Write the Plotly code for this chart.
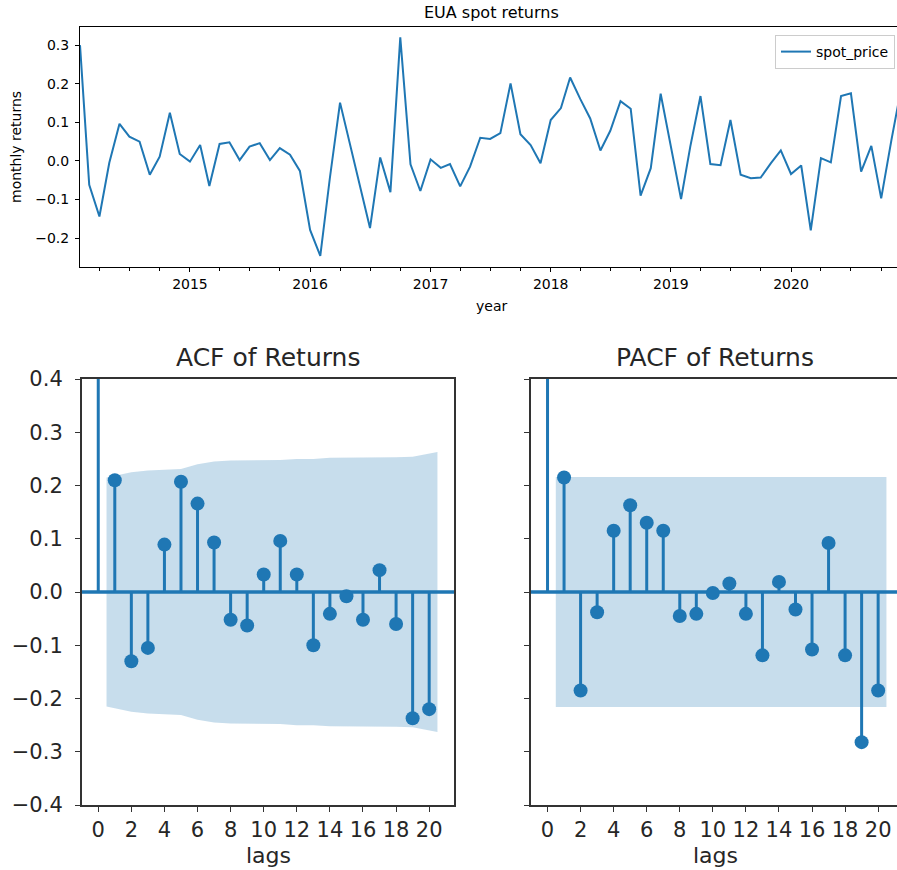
import pandas as pd
import plotly.graph_objects as go

# ---------------- data ----------------
months = pd.date_range("2014-02-01", periods=83, freq="MS")
spot_returns = [
    # 2014 (Feb-Dec)
    0.300, -0.062, -0.144, -0.005, 0.096, 0.063, 0.050, -0.036, 0.011, 0.125, 0.018,
    # 2015
    -0.002, 0.041, -0.065, 0.044, 0.048, 0.002, 0.037, 0.046, 0.002, 0.033, 0.016, -0.026,
    # 2016
    -0.179, -0.246, -0.045, 0.151, 0.042, -0.066, -0.174, 0.009, -0.081, 0.320, -0.009, -0.078,
    # 2017
    0.004, -0.018, -0.008, -0.066, -0.015, 0.060, 0.057, 0.072, 0.201, 0.069, 0.041, -0.006,
    # 2018
    0.106, 0.137, 0.216, 0.160, 0.110, 0.027, 0.078, 0.155, 0.135, -0.090, -0.019, 0.174,
    # 2019
    0.037, -0.099, 0.037, 0.168, -0.008, -0.011, 0.106, -0.036, -0.045, -0.043, -0.006, 0.027,
    # 2020
    -0.034, -0.012, -0.180, 0.007, -0.004, 0.168, 0.175, -0.028, 0.039, -0.097, 0.054, 0.190,
]

lags = list(range(21))
acf_values = [1.0, 0.210, -0.130, -0.105, 0.089, 0.207, 0.166, 0.093, -0.052, -0.063,
              0.033, 0.096, 0.033, -0.100, -0.041, -0.008, -0.052, 0.041, -0.060, -0.237, -0.220]
pacf_values = [1.0, 0.215, -0.185, -0.038, 0.115, 0.163, 0.130, 0.115, -0.045, -0.041,
               -0.002, 0.016, -0.041, -0.119, 0.019, -0.033, -0.108, 0.092, -0.119, -0.282, -0.185]

band_lags = [0.5, 2, 3, 4, 5, 6, 7, 8, 9, 10, 11, 12, 13, 14, 15, 16, 17, 18, 19, 20.5]
acf_band = [0.215, 0.225, 0.228, 0.230, 0.231, 0.240, 0.245, 0.247, 0.247, 0.248,
            0.248, 0.250, 0.250, 0.252, 0.252, 0.252, 0.253, 0.253, 0.254, 0.263]
pacf_band = [0.216] * 20

yticks_bottom = [-0.4, -0.3, -0.2, -0.1, 0.0, 0.1, 0.2, 0.3, 0.4]

# ---------------- styling ----------------
W, H = 897, 870
BLUE = "#1f77b4"
BAND = "rgba(31,119,180,0.25)"
FONT = "DejaVu Sans"
lag_range_acf = [-1, 21.5]
lag_range_pacf = [-1, 21.14]


def px_x(p):
    return p / W


def px_y(p):
    return 1 - p / H


fig = go.Figure()

# top line chart
fig.add_trace(go.Scatter(x=months, y=spot_returns, mode="lines", name="spot_price",
                         line=dict(color=BLUE, width=2), xaxis="x", yaxis="y",
                         showlegend=True))


def add_corr(values, band, xa, ya, xr):
    fig.add_trace(go.Scatter(
        x=band_lags + band_lags[::-1],
        y=band + [-v for v in band[::-1]],
        fill="toself", fillcolor=BAND, line=dict(width=0), mode="lines",
        xaxis=xa, yaxis=ya, showlegend=False, hoverinfo="skip"))
    sx, sy = [], []
    for k, v in zip(lags, values):
        sx += [k, k, None]
        sy += [0, v, None]
    fig.add_trace(go.Scatter(x=sx, y=sy, mode="lines", line=dict(color=BLUE, width=3),
                             xaxis=xa, yaxis=ya, showlegend=False))
    fig.add_trace(go.Scatter(x=xr, y=[0, 0], mode="lines", line=dict(color=BLUE, width=3.5),
                             xaxis=xa, yaxis=ya, showlegend=False))
    fig.add_trace(go.Scatter(x=lags, y=values, mode="markers",
                             marker=dict(color=BLUE, size=14),
                             xaxis=xa, yaxis=ya, showlegend=False, cliponaxis=True))


add_corr(acf_values, acf_band, "x2", "y2", lag_range_acf)
add_corr(pacf_values, pacf_band, "x3", "y3", lag_range_pacf)

top_axis_common = dict(showline=True, linecolor="black", linewidth=1, ticks="outside",
                       tickcolor="black", ticklen=4, showgrid=False, zeroline=False,
                       tickfont=dict(family=FONT, size=14, color="black"))

bot_axis_common = dict(showline=True, linecolor="#333", linewidth=1.5, ticks="outside",
                       tickcolor="#333", ticklen=5, showgrid=False, zeroline=False,
                       tickfont=dict(family=FONT, size=21, color="#262626"))

fig.update_layout(
    width=W, height=H,
    margin=dict(l=0, r=0, t=0, b=0),
    paper_bgcolor="white", plot_bgcolor="white",
    template="none",
    font=dict(family=FONT, color="black"),
    xaxis=dict(domain=[px_x(80), 1.0], type="date",
               range=["2014-02-01", "2020-11-18"],
               tick0="2015-01-01", dtick="M12", tickformat="%Y", mirror=True,
               minor=dict(dtick="M3", tick0="2014-01-01", ticks="outside", ticklen=2.5,
                          tickcolor="black", showgrid=False),
               anchor="y", **top_axis_common),
    yaxis=dict(domain=[px_y(267), px_y(27)], range=[-0.275, 0.347],
               tick0=0, dtick=0.1, tickformat=".1f", anchor="x", ticklabelstandoff=3,
               **top_axis_common),
    xaxis2=dict(domain=[px_x(81.7), px_x(454)], range=lag_range_acf, tick0=0, dtick=2,
                mirror=True, anchor="y2", **bot_axis_common),
    yaxis2=dict(domain=[px_y(805), px_y(379)], range=[-0.4, 0.4], tickvals=yticks_bottom,
                tickformat=".1f", mirror=True, anchor="x2", ticklabelstandoff=8,
                **bot_axis_common),
    xaxis3=dict(domain=[px_x(531), 1.0], range=lag_range_pacf, tick0=0, dtick=2,
                mirror=True, anchor="y3", **bot_axis_common),
    yaxis3=dict(domain=[px_y(805), px_y(379)], range=[-0.4, 0.4], tickvals=yticks_bottom,
                showticklabels=False, anchor="x3", **bot_axis_common),
    legend=dict(x=px_x(895), y=px_y(35), xanchor="right", yanchor="top",
                bgcolor="white", bordercolor="#cccccc", borderwidth=1,
                font=dict(family=FONT, size=14, color="black"), itemwidth=30),
    showlegend=True,
)

annos = [
    dict(text="EUA spot returns", x=px_x(491), y=px_y(12), size=16, color="black"),
    dict(text="monthly returns", x=px_x(16), y=px_y(147), size=14, color="black", angle=-90),
    dict(text="year", x=px_x(491), y=px_y(306), size=14, color="black"),
    dict(text="ACF of Returns", x=px_x(268), y=px_y(357), size=25, color="#262626"),
    dict(text="PACF of Returns", x=px_x(715), y=px_y(357), size=25, color="#262626"),
    dict(text="lags", x=px_x(268), y=px_y(855), size=22, color="#262626"),
    dict(text="lags", x=px_x(715), y=px_y(855), size=22, color="#262626"),
]
for a in annos:
    fig.add_annotation(text=a["text"], x=a["x"], y=a["y"], xref="paper", yref="paper",
                       xanchor="center", yanchor="middle", showarrow=False,
                       textangle=a.get("angle", 0),
                       font=dict(family=FONT, size=a["size"], color=a["color"]))

# remove the default page margin so the figure fills the window exactly
fig.write_html("out.html",
               config={"displayModeBar": False},
               post_script="document.body.style.margin='0';"
                           "document.body.style.overflow='hidden';")
